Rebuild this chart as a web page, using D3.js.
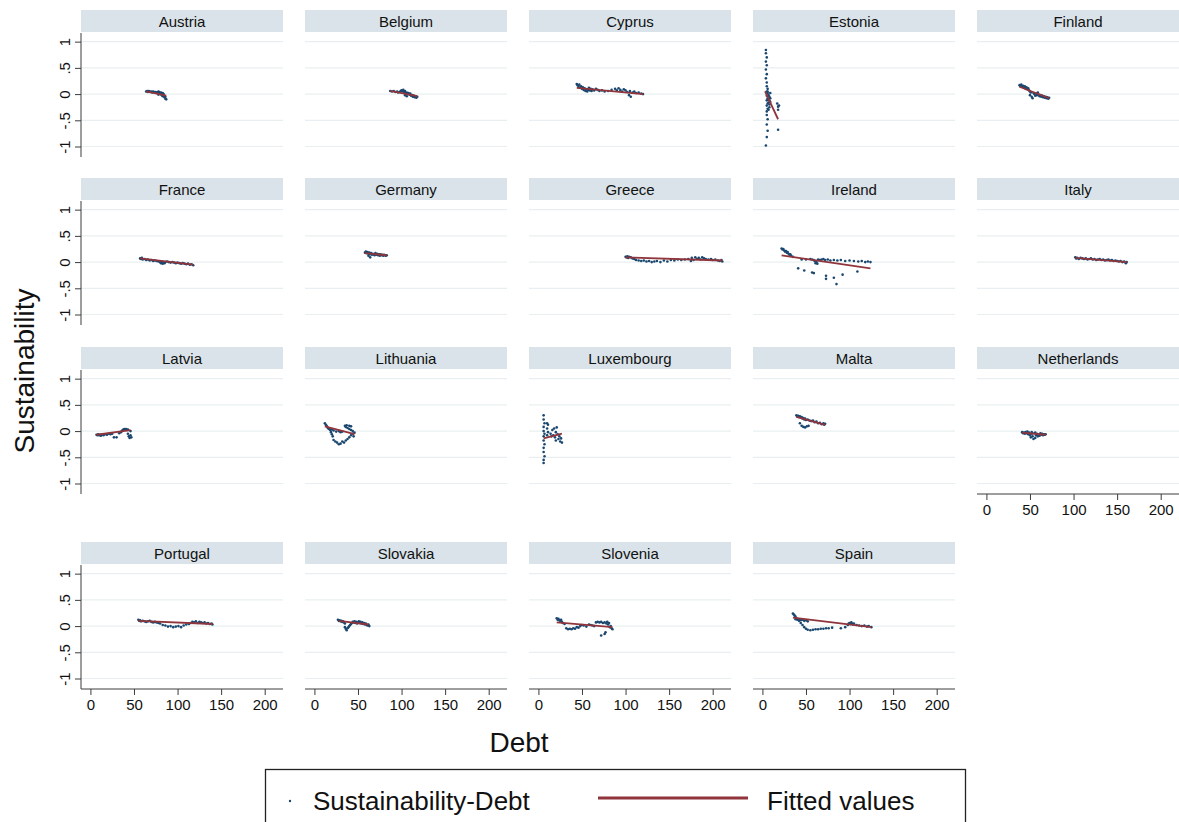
<!DOCTYPE html>
<html>
<head>
<meta charset="utf-8">
<script src="https://cdn.jsdelivr.net/npm/d3@7"></script>
<style>
  html, body { margin: 0; padding: 0; background: #fff; }
  svg { display: block; font-family: "Liberation Sans", Arial, Helvetica, sans-serif; }
</style>
</head>
<body>
<svg id="chart" width="1179" height="822"></svg>
<script>
// Panel order (by country)
const countries = ["Austria", "Belgium", "Cyprus", "Estonia", "Finland",
  "France", "Germany", "Greece", "Ireland", "Italy",
  "Latvia", "Lithuania", "Luxembourg", "Malta", "Netherlands",
  "Portugal", "Slovakia", "Slovenia", "Spain"];

// Axis ticks
const xTicks = [0, 50, 100, 150, 200];
const yTicks = [-1, -0.5, 0, 0.5, 1];
const yTickLabels = ["-1", "-.5", "0", ".5", "1"];

// Observations: [debt, sustainability]
const austria = [[64,0.05],[65,0.06],[66,0.04],[67,0.06],[68,0.05],[69,0.04],[70,0.05],[71,0.03],[72,0.05],[73,0.04],[74,0.03],[75,0.04],[76,0.02],[77,0.03],[78,0.05],[79,0.04],[80,0.02],[81,0.03],[82,0.01],[83,0.02],[82,-0.02],[83,-0.04],[84,-0.03],[85,-0.06],[86,-0.05],[86,-0.09],[87,-0.1],[84,0.0],[80,0.0],[78,-0.01]];
const belgium = [[87,0.06],[89,0.05],[91,0.06],[93,0.04],[95,0.05],[96,0.03],[98,0.04],[99,0.06],[100,0.07],[101,0.05],[102,0.08],[103,0.04],[104,0.06],[105,0.02],[106,0.03],[107,0.0],[108,0.02],[109,-0.01],[110,0.01],[111,-0.03],[112,-0.02],[113,-0.05],[114,-0.03],[115,-0.06],[116,-0.04],[117,-0.07],[118,-0.05],[104,-0.02],[106,-0.04]];
const cyprus = [[44,0.19],[45,0.17],[46,0.14],[47,0.18],[48,0.12],[49,0.15],[50,0.1],[51,0.13],[52,0.08],[53,0.11],[54,0.06],[55,0.09],[56,0.05],[57,0.08],[58,0.12],[59,0.07],[60,0.1],[61,0.06],[62,0.09],[64,0.07],[66,0.1],[68,0.08],[70,0.06],[73,0.07],[76,0.05],[80,0.06],[84,0.08],[88,0.1],[90,0.07],[92,0.11],[94,0.08],[96,0.05],[98,0.09],[100,0.07],[102,0.04],[104,-0.02],[105,0.06],[106,-0.05],[108,0.03],[110,0.05],[112,0.02],[115,0.03],[118,0.01],[120,0.0]];
const estonia = [[4,0.84],[4,0.78],[5,0.7],[4,0.62],[5,0.55],[4,0.47],[5,0.38],[4,0.3],[5,0.22],[5,0.15],[6,0.1],[5,0.05],[6,0.02],[5,-0.03],[6,-0.08],[5,-0.12],[6,-0.18],[5,-0.22],[6,-0.28],[5,-0.33],[5,-0.4],[6,-0.48],[5,-0.58],[6,-0.7],[5,-0.82],[4,-0.98],[7,-0.02],[8,-0.05],[7,-0.1],[8,-0.12],[9,-0.08],[7,-0.16],[8,-0.2],[9,-0.15],[8,-0.25],[7,-0.3],[9,0.02],[6,0.05],[17,-0.18],[18,-0.24],[18,-0.3],[19,-0.22],[18,-0.68]];
const finland = [[38,0.17],[39,0.15],[40,0.18],[41,0.14],[42,0.16],[43,0.12],[44,0.15],[45,0.1],[46,0.13],[47,0.09],[48,0.11],[49,0.07],[50,0.05],[50,-0.02],[51,0.03],[52,-0.05],[53,-0.08],[54,0.02],[55,0.0],[56,-0.03],[57,0.01],[58,-0.02],[59,0.03],[60,-0.01],[61,-0.04],[62,-0.02],[63,-0.05],[64,-0.03],[65,-0.06],[66,-0.04],[67,-0.07],[68,-0.05],[69,-0.08],[70,-0.06],[71,-0.09],[72,-0.07]];
const france = [[57,0.07],[58,0.06],[59,0.08],[60,0.05],[62,0.06],[64,0.04],[66,0.05],[68,0.03],[70,0.04],[72,0.02],[74,0.03],[76,0.02],[78,0.01],[80,0.0],[81,-0.02],[82,0.01],[83,-0.03],[84,-0.01],[85,-0.02],[86,0.0],[88,0.01],[90,0.0],[92,-0.01],[94,0.0],[96,-0.01],[98,-0.02],[100,-0.01],[102,-0.02],[104,-0.03],[106,-0.02],[108,-0.03],[110,-0.04],[112,-0.03],[114,-0.05],[116,-0.04],[118,-0.06]];
const germany = [[58,0.18],[59,0.2],[60,0.17],[61,0.19],[62,0.16],[62,0.12],[63,0.18],[64,0.09],[64,0.15],[65,0.17],[66,0.14],[67,0.16],[68,0.15],[69,0.13],[70,0.17],[71,0.14],[72,0.16],[73,0.13],[74,0.15],[75,0.12],[76,0.15],[77,0.13],[78,0.14],[79,0.12],[80,0.14],[81,0.13],[82,0.12],[83,0.13]];
const greece = [[100,0.1],[101,0.09],[102,0.11],[103,0.08],[104,0.1],[106,0.09],[108,0.07],[110,0.06],[112,0.04],[115,0.03],[118,0.02],[121,0.03],[124,0.01],[127,0.02],[130,0.0],[133,0.01],[136,0.02],[140,0.0],[144,0.03],[148,0.01],[152,0.04],[156,0.03],[160,0.05],[164,0.04],[168,0.05],[172,0.06],[175,0.02],[176,0.08],[178,0.04],[180,0.09],[182,0.06],[184,0.08],[186,0.05],[188,0.09],[190,0.07],[192,0.06],[195,0.05],[198,0.06],[200,0.04],[203,0.05],[206,0.03],[208,0.02],[210,0.04],[211,0.01]];
const ireland = [[22,0.26],[23,0.24],[24,0.25],[25,0.22],[26,0.2],[27,0.21],[28,0.18],[29,0.19],[30,0.16],[31,0.14],[32,0.15],[33,0.12],[35,0.1],[45,0.05],[50,0.05],[55,0.06],[57,0.05],[59,0.04],[60,0.02],[61,-0.02],[62,0.0],[63,-0.03],[64,0.05],[66,0.04],[68,0.05],[70,0.06],[72,0.04],[75,0.05],[78,0.03],[82,0.04],[86,0.03],[90,0.04],[95,0.02],[100,0.03],[105,0.02],[110,0.01],[114,0.02],[118,0.0],[121,0.01],[124,0.0],[41,-0.12],[48,-0.16],[57,-0.2],[59,-0.21],[73,-0.26],[73,-0.32],[82,-0.3],[85,-0.42],[92,-0.24],[109,-0.18]];
const italy = [[102,0.09],[103,0.07],[104,0.08],[106,0.06],[108,0.08],[110,0.07],[112,0.06],[114,0.07],[116,0.05],[118,0.06],[120,0.07],[122,0.05],[124,0.06],[126,0.04],[128,0.05],[130,0.06],[132,0.04],[134,0.05],[136,0.03],[138,0.04],[140,0.05],[142,0.03],[144,0.04],[146,0.02],[148,0.03],[150,0.02],[152,0.01],[154,0.02],[156,0.0],[158,0.01],[160,-0.02],[161,0.0]];
const latvia = [[7,-0.07],[8,-0.08],[9,-0.06],[10,-0.08],[11,-0.07],[12,-0.09],[13,-0.07],[15,-0.08],[17,-0.06],[19,-0.07],[21,-0.05],[23,-0.06],[25,-0.05],[27,-0.12],[30,-0.12],[33,-0.04],[35,-0.02],[36,0.0],[37,0.02],[38,0.03],[39,0.04],[40,0.03],[41,0.04],[42,0.02],[43,0.03],[43,-0.05],[44,-0.1],[45,-0.13],[46,-0.08],[46,0.0],[47,-0.12]];
const lithuania = [[12,0.15],[13,0.12],[14,0.1],[15,0.07],[16,0.05],[17,0.04],[18,0.02],[19,-0.02],[20,-0.06],[21,-0.1],[22,-0.17],[24,-0.2],[26,-0.22],[28,-0.25],[30,-0.24],[32,-0.2],[34,-0.22],[36,-0.18],[38,-0.15],[40,-0.12],[42,-0.08],[44,-0.05],[45,-0.1],[46,-0.03],[44,0.0],[42,0.02],[40,0.04],[38,0.06],[36,0.08],[35,0.1],[37,0.11],[40,0.1],[42,0.09],[20,0.03],[22,0.01],[25,-0.01],[28,0.0],[30,-0.02],[32,-0.01]];
const luxembourg = [[6,0.3],[6,0.22],[7,0.15],[6,0.08],[6,0.0],[7,-0.05],[6,-0.1],[6,-0.18],[7,-0.25],[6,-0.32],[6,-0.4],[7,-0.48],[6,-0.55],[6,-0.61],[10,0.15],[10,0.05],[11,-0.02],[10,-0.08],[11,0.12],[14,-0.05],[15,-0.1],[16,0.02],[17,-0.08],[18,0.05],[19,-0.12],[20,-0.02],[21,0.07],[22,-0.06],[23,-0.15],[24,-0.1],[25,-0.2],[26,-0.14],[27,-0.22],[20,-0.18]];
const malta = [[39,0.3],[40,0.28],[41,0.29],[42,0.27],[43,0.28],[44,0.26],[45,0.27],[46,0.24],[47,0.25],[48,0.22],[49,0.24],[50,0.21],[52,0.22],[54,0.2],[56,0.19],[58,0.2],[60,0.17],[62,0.18],[64,0.15],[66,0.16],[68,0.13],[70,0.15],[71,0.12],[72,0.14],[43,0.15],[45,0.1],[47,0.08],[49,0.07],[51,0.09],[53,0.1]];
const netherlands = [[41,-0.02],[42,-0.04],[43,-0.03],[44,-0.05],[45,-0.02],[46,-0.04],[47,-0.01],[48,-0.06],[49,-0.03],[50,-0.08],[51,-0.12],[52,-0.05],[53,-0.1],[54,-0.15],[55,-0.04],[56,-0.13],[57,-0.08],[58,-0.05],[59,-0.1],[60,-0.06],[61,-0.09],[62,-0.04],[63,-0.07],[64,-0.05],[65,-0.08],[66,-0.06],[67,-0.07],[68,-0.06],[52,-0.02],[56,-0.03]];
const portugal = [[55,0.12],[56,0.1],[57,0.11],[58,0.09],[60,0.1],[62,0.09],[64,0.08],[66,0.09],[68,0.1],[70,0.08],[72,0.07],[74,0.08],[76,0.07],[78,0.06],[80,0.05],[83,0.02],[86,0.01],[89,-0.01],[92,0.0],[95,-0.02],[98,-0.01],[101,0.0],[104,-0.02],[107,0.01],[110,0.03],[113,0.04],[115,0.06],[117,0.08],[119,0.07],[121,0.09],[123,0.06],[125,0.08],[127,0.07],[129,0.06],[131,0.07],[133,0.05],[135,0.06],[137,0.04],[139,0.05],[140,0.03]];
const slovakia = [[27,0.12],[28,0.1],[29,0.11],[30,0.09],[31,0.1],[32,0.08],[33,0.09],[34,0.07],[35,0.05],[35,-0.02],[36,-0.05],[37,-0.08],[38,-0.04],[39,-0.02],[40,0.0],[41,0.02],[42,0.04],[43,0.06],[44,0.08],[45,0.07],[46,0.09],[47,0.06],[48,0.08],[49,0.05],[50,0.07],[51,0.09],[52,0.06],[53,0.08],[54,0.05],[55,0.07],[56,0.04],[57,0.06],[58,0.03],[59,0.05],[60,0.02],[61,0.01],[62,0.03],[63,0.0]];
const slovenia = [[21,0.15],[22,0.12],[23,0.14],[24,0.11],[25,0.1],[26,0.12],[27,0.08],[28,0.06],[30,0.04],[32,-0.04],[34,-0.06],[36,-0.05],[38,-0.06],[40,-0.04],[42,-0.05],[44,-0.02],[46,-0.03],[48,0.0],[50,0.02],[52,0.01],[55,-0.01],[58,0.03],[60,0.02],[62,0.01],[64,0.0],[66,0.07],[68,0.08],[70,0.07],[72,0.08],[74,0.06],[76,0.07],[78,0.05],[79,0.08],[80,0.03],[81,0.06],[82,-0.02],[83,0.0],[84,-0.04],[85,-0.06],[72,-0.18],[76,-0.15],[77,-0.12]];
const spain = [[35,0.24],[36,0.22],[37,0.2],[38,0.18],[39,0.15],[40,0.12],[42,0.1],[44,0.06],[46,0.02],[48,-0.02],[50,-0.05],[52,-0.07],[55,-0.08],[58,-0.07],[61,-0.06],[64,-0.06],[67,-0.05],[70,-0.05],[73,-0.04],[76,-0.04],[80,-0.03],[90,-0.04],[95,-0.02],[38,0.13],[40,0.14],[42,0.12],[44,0.11],[46,0.12],[48,0.1],[50,0.11],[52,0.09],[98,0.02],[99,0.05],[100,0.06],[101,0.04],[102,0.07],[103,0.05],[104,0.03],[105,0.05],[108,0.02],[111,0.01],[114,0.0],[117,0.01],[120,-0.01],[122,0.0],[125,-0.02]];

// Fitted values: [[debt start, fit], [debt end, fit]]
const fitted = {
  Austria: [[64,0.05],[87,-0.03]],
  Belgium: [[87,0.06],[118,-0.04]],
  Cyprus: [[44,0.12],[120,0.0]],
  Estonia: [[3,0.05],[18,-0.48]],
  Finland: [[38,0.14],[72,-0.08]],
  France: [[57,0.07],[118,-0.05]],
  Germany: [[58,0.17],[83,0.13]],
  Greece: [[100,0.09],[211,0.03]],
  Ireland: [[22,0.13],[124,-0.12]],
  Italy: [[102,0.08],[161,0.0]],
  Latvia: [[7,-0.07],[46,0.02]],
  Lithuania: [[12,0.09],[46,-0.06]],
  Luxembourg: [[6,-0.14],[27,-0.05]],
  Malta: [[39,0.27],[72,0.12]],
  Netherlands: [[41,-0.03],[68,-0.07]],
  Portugal: [[55,0.1],[140,0.04]],
  Slovakia: [[28,0.1],[62,0.03]],
  Slovenia: [[21,0.07],[85,-0.02]],
  Spain: [[35,0.16],[125,-0.02]]
};

const observations = {
  Austria: austria, Belgium: belgium, Cyprus: cyprus, Estonia: estonia, Finland: finland,
  France: france, Germany: germany, Greece: greece, Ireland: ireland, Italy: italy,
  Latvia: latvia, Lithuania: lithuania, Luxembourg: luxembourg, Malta: malta, Netherlands: netherlands,
  Portugal: portugal, Slovakia: slovakia, Slovenia: slovenia, Spain: spain
};

// ---- layout ----
const NAVY = "#1a476f", MAROON = "#90353b";
const STRIP = "#d9e3e9", GRID = "#e9eff1", AXIS = "#3c3c3c";
const ncol = 5;
const colLeft = [81, 305, 529, 753, 977];
const rowTop = [10, 178, 347, 542];
const panelW = 202, stripH = 22, plotOff = 23, plotH = 124;

const svg = d3.select("#chart");

const x = d3.scaleLinear().domain([-10.8, 221]).range([0, panelW]);
const y = d3.scaleLinear().domain([-1.2, 1.165]).range([plotH, 0]);

countries.forEach((name, i) => {
  const r = Math.floor(i / ncol), c = i % ncol;
  const g = svg.append("g").attr("transform", `translate(${colLeft[c]},${rowTop[r]})`);

  // title strip
  g.append("rect").attr("x", 0).attr("y", 0).attr("width", panelW).attr("height", stripH)
    .attr("fill", STRIP);
  g.append("text").attr("x", panelW / 2).attr("y", stripH / 2 + 5.5)
    .attr("text-anchor", "middle").attr("font-size", 15).attr("fill", "#111")
    .text(name);

  const p = g.append("g").attr("transform", `translate(0,${plotOff})`);

  // horizontal grid
  p.selectAll("line.grid").data(yTicks).join("line")
    .attr("class", "grid")
    .attr("x1", 0).attr("x2", panelW)
    .attr("y1", d => y(d)).attr("y2", d => y(d))
    .attr("stroke", GRID).attr("stroke-width", 1.2);

  // observations
  p.selectAll("circle").data(observations[name]).join("circle")
    .attr("cx", d => x(d[0])).attr("cy", d => y(d[1]))
    .attr("r", 1.3).attr("fill", NAVY);

  // fitted line
  p.append("path").datum(fitted[name])
    .attr("d", d3.line().x(d => x(d[0])).y(d => y(d[1])))
    .attr("fill", "none").attr("stroke", MAROON).attr("stroke-width", 1.8);

  // y axis on first column
  if (c === 0) {
    const ya = p.append("g").call(d3.axisLeft(y).tickValues(yTicks).tickSize(6)
      .tickFormat((d, k) => yTickLabels[k]));
    ya.select(".domain").attr("stroke", AXIS).attr("d", `M0,0V${plotH}`);
    ya.selectAll(".tick line").attr("stroke", AXIS);
    ya.selectAll(".tick text")
      .attr("font-size", 15).attr("fill", "#111").attr("font-family", null)
      .attr("x", 0).attr("dy", null).attr("text-anchor", "middle")
      .attr("transform", "translate(-15,0) rotate(-90)")
      .attr("dominant-baseline", "middle");
  }

  // x axis on the lowest panel of each column
  if (i + ncol >= countries.length) {
    const xa = p.append("g").attr("transform", `translate(0,${plotH})`)
      .call(d3.axisBottom(x).tickValues(xTicks).tickSize(6).tickFormat(d3.format("d")));
    xa.select(".domain").attr("stroke", AXIS).attr("d", `M0,0H${panelW}`);
    xa.selectAll(".tick line").attr("stroke", AXIS);
    xa.selectAll(".tick text").attr("font-size", 15).attr("fill", "#111")
      .attr("font-family", null).attr("y", 10);
  }
});

// axis titles
svg.append("text").attr("transform", "translate(34,371) rotate(-90)")
  .attr("text-anchor", "middle").attr("font-size", 28).attr("fill", "#111")
  .text("Sustainability");
svg.append("text").attr("x", 519).attr("y", 752)
  .attr("text-anchor", "middle").attr("font-size", 28).attr("fill", "#111")
  .text("Debt");

// legend
const lg = svg.append("g");
lg.append("rect").attr("x", 265.5).attr("y", 769.5).attr("width", 700).attr("height", 70)
  .attr("fill", "#fff").attr("stroke", "#222").attr("stroke-width", 1.3);
lg.append("circle").attr("cx", 290).attr("cy", 801).attr("r", 1.2).attr("fill", NAVY);
lg.append("text").attr("x", 313).attr("y", 810).attr("font-size", 26).attr("fill", "#111")
  .text("Sustainability-Debt");
lg.append("line").attr("x1", 598).attr("x2", 748).attr("y1", 798).attr("y2", 798)
  .attr("stroke", MAROON).attr("stroke-width", 3);
lg.append("text").attr("x", 767).attr("y", 810).attr("font-size", 26).attr("fill", "#111")
  .text("Fitted values");
</script>
</body>
</html>
